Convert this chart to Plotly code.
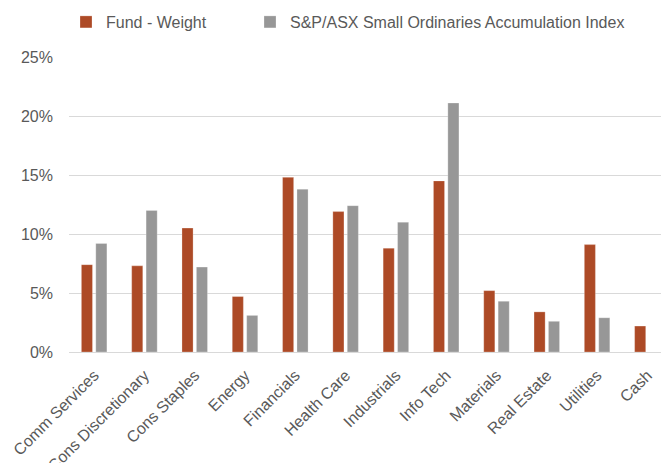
import plotly.graph_objects as go

categories = ["Comm Services", "Cons Discretionary", "Cons Staples", "Energy",
              "Financials", "Health Care", "Industrials", "Info Tech",
              "Materials", "Real Estate", "Utilities", "Cash"]
fund_weight = [7.4, 7.3, 10.5, 4.7, 14.8, 11.9, 8.8, 14.5, 5.2, 3.4, 9.1, 2.2]
index_weight = [9.2, 12.0, 7.2, 3.1, 13.8, 12.4, 11.0, 21.1, 4.3, 2.6, 2.9, None]
tick_vals = [0, 5, 10, 15, 20, 25]
tick_text = ["0%", "5%", "10%", "15%", "20%", "25%"]

FONT = "Liberation Sans, Arial, sans-serif"
TXT = "#595959"
# page body has an 8px default margin, so the figure is sized to fill the rest
W, H = 661, 455

fig = go.Figure()
fig.add_trace(go.Bar(
    x=categories, y=fund_weight, name="Fund - Weight",
    marker=dict(color="#AD4A26", line=dict(color="rgba(255,255,255,0.5)", width=0.5)),
    legend="legend", showlegend=True,
))
fig.add_trace(go.Bar(
    x=categories, y=index_weight, name="S&P/ASX Small Ordinaries Accumulation Index",
    marker=dict(color="#979797", line=dict(color="rgba(255,255,255,0.5)", width=0.5)),
    legend="legend2", showlegend=True,
))

fig.update_layout(
    width=W, height=H,
    margin=dict(l=61, r=0, t=49, b=111, autoexpand=False),
    showlegend=True,
    paper_bgcolor="white", plot_bgcolor="white",
    barmode="group", bargap=0.427, bargroupgap=0.23,
    font=dict(family=FONT, size=16, color=TXT),
    legend=dict(orientation="h", xref="container", yref="container", visible=True,
                x=58 / W, y=1 - 14 / H, xanchor="left", yanchor="middle",
                font=dict(size=16, color=TXT), bgcolor="rgba(0,0,0,0)"),
    legend2=dict(orientation="h", xref="container", yref="container", visible=True,
                 x=242 / W, y=1 - 14 / H, xanchor="left", yanchor="middle",
                 font=dict(size=16, color=TXT), bgcolor="rgba(0,0,0,0)"),
    xaxis=dict(range=[-0.5, 11.43], tickangle=-45, showgrid=False,
               showline=False, ticks="", automargin=False,
               ticklabelstandoff=10,
               tickfont=dict(size=16, color=TXT)),
    yaxis=dict(range=[0, 25], tickvals=tick_vals, ticktext=tick_text,
               showgrid=True, gridcolor="#D9D9D9", gridwidth=1,
               zeroline=True, zerolinecolor="#D9D9D9", zerolinewidth=1,
               showline=False, ticks="", automargin=False,
               ticklabelstandoff=15,
               tickfont=dict(size=16, color=TXT)),
)

fig.write_html("out.html")
